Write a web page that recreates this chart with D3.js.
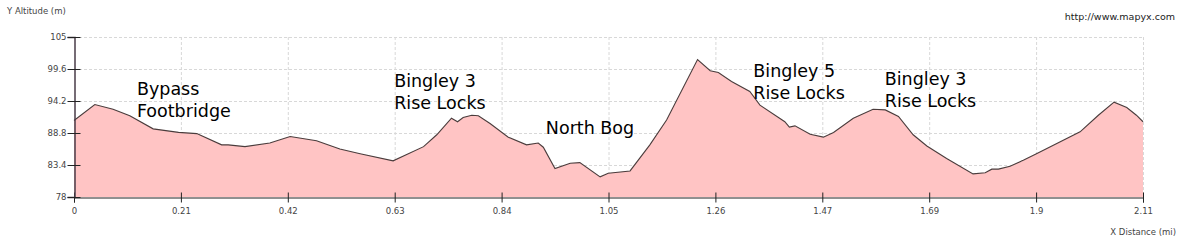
<!DOCTYPE html>
<html>
<head>
<meta charset="utf-8">
<script src="https://cdn.jsdelivr.net/npm/d3@7"></script>
<style>
  body { margin: 0; background: #fff; }
  svg { display: block; font-family: "DejaVu Sans", Verdana, sans-serif; }
</style>
</head>
<body>
<svg id="profileSvg" width="1186" height="243"></svg>
<script>
// Elevation profile
const distances = [0, 0.041, 0.077, 0.110, 0.156, 0.206, 0.242, 0.291, 0.304, 0.337,
    0.386, 0.426, 0.478, 0.524, 0.564, 0.629, 0.689, 0.715, 0.744, 0.756,
    0.767, 0.784, 0.797, 0.820, 0.856, 0.892, 0.915, 0.925, 0.948, 0.978,
    0.997, 1.037, 1.053, 1.096, 1.135, 1.168, 1.229, 1.254, 1.270, 1.296,
    1.332, 1.352, 1.401, 1.410, 1.421, 1.451, 1.477, 1.497, 1.536, 1.575,
    1.599, 1.625, 1.654, 1.681, 1.720, 1.772, 1.796, 1.809, 1.822, 1.845,
    1.871, 1.897, 1.983, 2.019, 2.050, 2.075, 2.094, 2.107];
const altitudes = [90.9, 93.6, 92.8, 91.7, 89.5, 88.9, 88.7, 86.8, 86.8, 86.5,
    87.1, 88.2, 87.5, 86.1, 85.3, 84.1, 86.5, 88.5, 91.3, 90.7,
    91.4, 91.8, 91.7, 90.4, 88.1, 86.8, 87.1, 86.4, 82.8, 83.7,
    83.8, 81.4, 82.0, 82.4, 86.8, 91.0, 101.2, 99.3, 99.0, 97.5,
    95.8, 93.5, 90.7, 89.8, 90.0, 88.6, 88.1, 88.9, 91.3, 92.8,
    92.7, 91.6, 88.5, 86.6, 84.5, 81.9, 82.1, 82.7, 82.7, 83.2,
    84.2, 85.3, 89.0, 91.8, 94.0, 93.1, 91.8, 90.7];

// Axis ticks
const yTicks = [78, 83.4, 88.8, 94.2, 99.6, 105];
const xMax = 2.107;
const xTicks = d3.range(11).map(i => i * xMax / 10);

// Place names (text lines, distance and altitude of first baseline)
const placeNames = [["Bypass", "Footbridge"], ["Bingley 3", "Rise Locks"], ["North Bog"],
    ["Bingley 5", "Rise Locks"], ["Bingley 3", "Rise Locks"]];
const placeDist = [0.124, 0.631, 0.930, 1.339, 1.598];
const placeAlt = [95.2, 96.6, 88.6, 98.3, 96.9];

const svg = d3.select("#profileSvg");
const margin = { left: 74, right: 1143, top: 37, bottom: 197 };

const x = d3.scaleLinear().domain([0, xMax]).range([margin.left, margin.right]);
const y = d3.scaleLinear().domain([78, 105]).range([margin.bottom, margin.top]);

const points = distances.map((d, i) => [d, altitudes[i]]);

// Grid lines
svg.append("g")
    .selectAll("line")
    .data(xTicks.slice(1))
    .join("line")
    .attr("x1", d => x(d) + 0.5).attr("x2", d => x(d) + 0.5)
    .attr("y1", margin.top).attr("y2", margin.bottom)
    .attr("stroke", "#d8d8d8")
    .attr("stroke-dasharray", "3,2");

svg.append("g")
    .selectAll("line")
    .data(yTicks.slice(1))
    .join("line")
    .attr("x1", margin.left).attr("x2", margin.right)
    .attr("y1", d => y(d) + 0.5).attr("y2", d => y(d) + 0.5)
    .attr("stroke", "#d8d8d8")
    .attr("stroke-dasharray", "3,2");

// Area and profile line
svg.append("path")
    .datum(points)
    .attr("d", d3.area().x(d => x(d[0])).y0(y(78)).y1(d => y(d[1])))
    .attr("fill", "#ffc4c4");

svg.append("path")
    .datum(points)
    .attr("d", d3.line().x(d => x(d[0])).y(d => y(d[1])))
    .attr("fill", "none")
    .attr("stroke", "#4a3c3c")
    .attr("stroke-width", 1.1);

// Axes
const xAxis = svg.append("g")
    .attr("transform", `translate(0,${margin.bottom + 0.5})`)
    .call(d3.axisBottom(x).tickValues(xTicks).tickFormat(d3.format(".2~f")).tickSizeOuter(0).tickSize(5));
xAxis.select(".domain").attr("stroke", "#222");
xAxis.selectAll(".tick line").attr("y1", -5).attr("y2", 5).attr("stroke", "#222");
xAxis.selectAll(".tick text").attr("y", 10).attr("fill", "#444").attr("font-size", 8.5);

const yAxis = svg.append("g")
    .attr("transform", `translate(${margin.left + 0.5},0)`)
    .call(d3.axisLeft(y).tickValues(yTicks).tickFormat(d => d).tickSizeOuter(0).tickSize(7));
yAxis.select(".domain").attr("stroke", "#4a3c48").attr("stroke-width", 1.5);
yAxis.selectAll(".tick line").attr("x1", -7).attr("x2", 6).attr("stroke", "#222");
yAxis.selectAll(".tick text").attr("x", -8).attr("fill", "#444").attr("font-size", 8.5);
svg.selectAll(".tick text").attr("font-family", "DejaVu Sans, Verdana, sans-serif");

// Axis titles
svg.append("text")
    .attr("x", 7).attr("y", 14)
    .attr("font-size", 8.5).attr("fill", "#444")
    .text("Y Altitude (m)");

svg.append("text")
    .attr("x", 1176).attr("y", 235)
    .attr("text-anchor", "end")
    .attr("font-size", 8.5).attr("fill", "#444")
    .text("X Distance (mi)");

svg.append("text")
    .attr("x", 1175).attr("y", 20)
    .attr("text-anchor", "end")
    .attr("font-size", 9.5).attr("fill", "#222")
    .text("http://www.mapyx.com");

// Place name labels
placeNames.forEach((lines, i) => {
    const label = svg.append("text")
        .attr("x", x(placeDist[i]))
        .attr("y", y(placeAlt[i]))
        .attr("font-size", 17.5)
        .attr("fill", "#000");
    lines.forEach((line, j) => {
        label.append("tspan")
            .attr("x", x(placeDist[i]))
            .attr("dy", j === 0 ? 0 : 22)
            .text(line);
    });
});
</script>
</body>
</html>
